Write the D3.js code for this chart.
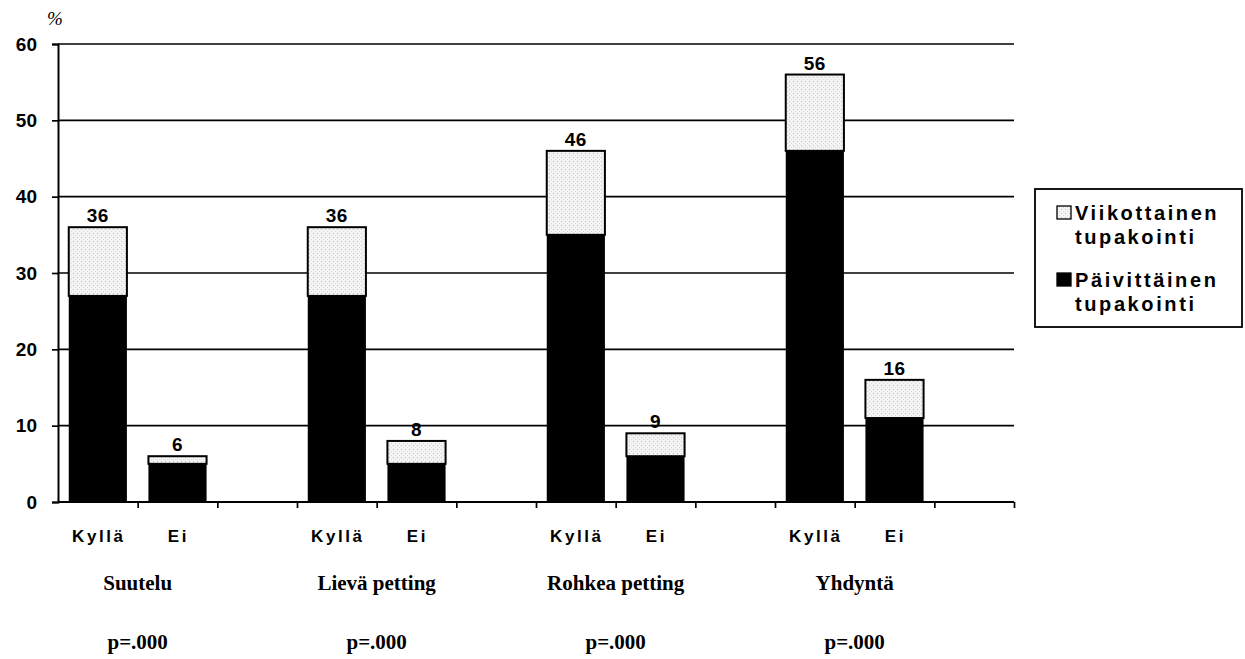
<!DOCTYPE html>
<html><head><meta charset="utf-8">
<script src="https://cdn.jsdelivr.net/npm/d3@7"></script>
<style>body{margin:0;background:#fff}svg{display:block}</style>
</head><body>
<script>
const groups = ["Suutelu","Lievä petting","Rohkea petting","Yhdyntä"];
const pValues = ["p=.000","p=.000","p=.000","p=.000"];
const answers = ["Kyllä","Ei"];
const daily  = [27,5, 27,5, 35,6, 46,11];   // Päivittäinen tupakointi
const weekly = [9,1, 9,3, 11,3, 10,5];      // Viikottainen tupakointi
const totals = [36,6, 36,8, 46,9, 56,16];
const yTicks = [0,10,20,30,40,50,60];
const legendLabels = [["Viikottainen","tupakointi"],["Päivittäinen","tupakointi"]];

const W=1245,H=659;
const svg=d3.select("body").append("svg").attr("width",W).attr("height",H);
const x0=58,x1=1014,yTop=44,yBot=502;
const slots=d3.range(12);
const x=d3.scaleBand().domain(slots).range([x0,x1]).paddingInner(0.27).paddingOuter(0.135);
const xs=d3.scaleLinear().domain([0,12]).range([x0,x1]);
const y=d3.scaleLinear().domain([0,60]).range([yBot,yTop]);
const SANS="Liberation Sans, Arial, sans-serif", SERIF="Liberation Serif, Times New Roman, serif";

const defs=svg.append("defs");
const pat=defs.append("pattern").attr("id","dots").attr("width",4).attr("height",4).attr("patternUnits","userSpaceOnUse");
pat.append("rect").attr("width",4).attr("height",4).attr("fill","#f3f3f3");
pat.append("rect").attr("x",1).attr("y",1).attr("width",1).attr("height",1).attr("fill","#c4c4c4");
pat.append("rect").attr("x",3).attr("y",3).attr("width",1).attr("height",1).attr("fill","#dadada");

// gridlines
svg.append("g").selectAll("line").data(yTicks.filter(d=>d>0)).join("line")
 .attr("x1",x0).attr("x2",x1).attr("y1",d=>y(d)).attr("y2",d=>y(d))
 .attr("stroke","#000").attr("stroke-width",1.7);

// y axis
const ya=svg.append("g").attr("transform",`translate(${x0},0)`)
 .call(d3.axisLeft(y).tickValues(yTicks).tickSize(6).tickPadding(15));
ya.select(".domain").attr("stroke-width",2);
ya.selectAll(".tick line").attr("stroke-width",1.7);
ya.selectAll("text").attr("font-family",SANS).attr("font-weight","bold").attr("font-size",19).attr("fill","#000");

// x axis baseline and ticks
const xa=svg.append("g").attr("transform",`translate(0,${yBot})`)
 .call(d3.axisBottom(xs).tickValues(d3.range(1,13)).tickSize(6).tickFormat(""));
xa.select(".domain").attr("d",`M${x0},0H${x1}`).attr("stroke-width",2);
xa.selectAll(".tick line").attr("stroke-width",1.7);

// bars
const data=slots.filter(i=>i%3!==2).map((s,k)=>({slot:s,d:daily[k],w:weekly[k],t:totals[k],ans:answers[k%2]}));
const bars=svg.append("g");
bars.selectAll(".dk").data(data).join("rect")
 .attr("x",d=>x(d.slot)).attr("width",x.bandwidth())
 .attr("y",d=>y(d.d)).attr("height",d=>y(0)-y(d.d)).attr("fill","#000");
bars.selectAll(".wk").data(data).join("rect")
 .attr("x",d=>x(d.slot)).attr("width",x.bandwidth())
 .attr("y",d=>y(d.d+d.w)).attr("height",d=>y(d.d)-y(d.d+d.w))
 .attr("fill","url(#dots)").attr("stroke","#000").attr("stroke-width",2);
bars.selectAll(".vl").data(data).join("text")
 .attr("x",d=>x(d.slot)+x.bandwidth()/2).attr("y",d=>y(d.t)-5)
 .attr("text-anchor","middle").attr("font-family",SANS)
 .attr("font-weight","bold").attr("font-size",19).attr("letter-spacing",0.5).text(d=>d.t);

// category labels
svg.append("g").selectAll("text").data(data).join("text")
 .attr("x",d=>x(d.slot)+x.bandwidth()/2+1).attr("y",542)
 .attr("text-anchor","middle").attr("font-family",SANS)
 .attr("font-weight","bold").attr("font-size",17).attr("letter-spacing",2.6).text(d=>d.ans);

// group labels
svg.append("g").selectAll("text").data(groups).join("text")
 .attr("x",(d,i)=>xs(i*3+1)).attr("y",590).attr("text-anchor","middle")
 .attr("font-family",SERIF).attr("font-weight","bold")
 .attr("font-size",21).text(d=>d);
svg.append("g").selectAll("text").data(pValues).join("text")
 .attr("x",(d,i)=>xs(i*3+1)).attr("y",649).attr("text-anchor","middle")
 .attr("font-family",SERIF).attr("font-weight","bold")
 .attr("font-size",21).text(d=>d);

// % label
svg.append("text").attr("x",47).attr("y",25).attr("font-family",SERIF)
 .attr("font-style","italic").attr("font-size",19).text("%");

// legend
const lg=svg.append("g");
lg.append("rect").attr("x",1035).attr("y",189).attr("width",207).attr("height",138)
 .attr("fill","#fff").attr("stroke","#000").attr("stroke-width",1.8);
const fills=["url(#dots)","#000"];
legendLabels.forEach((lab,i)=>{
  const yy=220+i*67;
  lg.append("rect").attr("x",1057).attr("y",yy-14).attr("width",14).attr("height",13)
   .attr("fill",fills[i]).attr("stroke","#000").attr("stroke-width",1.3);
  lg.append("text").attr("x",1075).attr("y",yy).attr("font-family",SANS)
   .attr("font-weight","bold").attr("font-size",20).attr("letter-spacing",2.6).text(lab[0]);
  lg.append("text").attr("x",1075).attr("y",yy+24).attr("font-family",SANS)
   .attr("font-weight","bold").attr("font-size",20).attr("letter-spacing",2.6).text(lab[1]);
});
</script>
</body></html>
